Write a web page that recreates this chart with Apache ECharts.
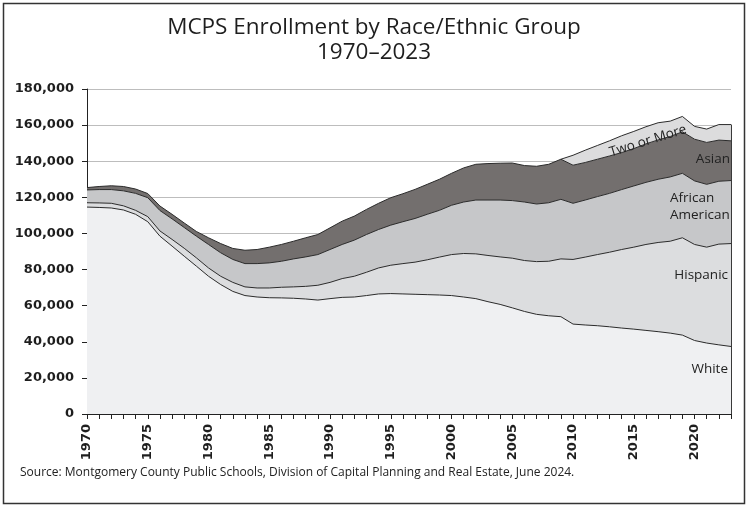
<!DOCTYPE html>
<html>
<head>
<meta charset="utf-8">
<title>MCPS Enrollment by Race/Ethnic Group</title>
<script src="https://cdn.jsdelivr.net/npm/echarts/dist/echarts.min.js"></script>
<style>
    html, body { margin: 0; padding: 0; background: #fff; }
    #chart_main { width: 748px; height: 506px; }
</style>
</head>
<body>
<div id="chart_main"></div>
<script>
var years = ['1970','1971','1972','1973','1974','1975','1976','1977','1978','1979',
    '1980','1981','1982','1983','1984','1985','1986','1987','1988','1989',
    '1990','1991','1992','1993','1994','1995','1996','1997','1998','1999',
    '2000','2001','2002','2003','2004','2005','2006','2007','2008','2009',
    '2010','2011','2012','2013','2014','2015','2016','2017','2018','2019',
    '2020','2021','2022','2023'];

var white = [114600,114400,114100,113000,110600,106500,98500,93000,87400,81900,
    76300,71700,67900,65600,64800,64400,64300,64100,63700,63100,
    63900,64600,64800,65600,66500,66700,66500,66300,66100,65900,
    65600,64800,63900,62200,60700,58800,56800,55200,54400,53900,
    49800,49300,48900,48300,47600,47000,46300,45600,44800,43700,
    40700,39300,38300,37400];

var hispanic = [2400,2500,2600,2300,2200,2800,2900,3700,4400,4600,
    4600,4600,5000,4800,5000,5400,5900,6300,7000,8200,
    9000,10400,11500,12900,14400,15700,16800,17800,19300,21000,
    22700,24100,24800,25600,26300,27500,28200,29200,30200,32000,
    35800,37600,39400,41300,43500,45400,47600,49400,50900,53900,
    53200,53100,55800,57000];

var africanAmerican = [7100,7400,7600,8300,9400,10500,11300,11400,11500,12000,
    13000,13000,12700,12900,13500,13900,14400,15500,16300,17000,
    18200,18900,20000,20900,21300,22200,23200,24200,25200,25900,
    27300,28500,29800,30700,31500,31900,32400,31900,32400,33000,
    31100,31600,32100,32600,33200,33900,34400,35000,35600,35700,
    35200,34800,34800,34900];

var asian = [1300,1700,2100,2400,2400,2300,2500,2500,2500,2600,
    3700,5100,6100,7400,7800,8700,9300,9800,10600,11100,
    12000,12900,13300,13900,14500,15200,15500,16100,16600,17200,
    17700,18900,19800,20200,20400,20800,20200,20900,21300,22200,
    21100,20800,20700,20700,20500,20700,21300,21800,22400,23000,
    23100,23200,22800,22000];

// not reported before 2009
var twoOrMore = [null,null,null,null,null,null,null,null,null,null,
    null,null,null,null,null,null,null,null,null,null,
    null,null,null,null,null,null,null,null,null,null,
    null,null,null,null,null,null,null,null,null,0,
    5500,6800,7600,8400,9300,9500,9500,9500,8500,8500,
    7100,7400,8600,9000];

var yTicks = [0, 20000, 40000, 60000, 80000, 100000, 120000, 140000, 160000, 180000];

$chartTitle = 'MCPS Enrollment by Race/Ethnic Group\n1970\u20132023';
$source = 'Source: Montgomery County Public Schools, Division of Capital Planning and Real Estate, June 2024.';

initChart();

function areaSeries(name, data, color) {
    return {
        name: name,
        type: 'line',
        stack: 'total',
        data: data,
        symbol: 'none',
        smooth: false,
        lineStyle: { color: '#2b2b2b', width: 1 },
        areaStyle: { color: color, opacity: 1 },
        emphasis: { disabled: true }
    };
}

function label(text, x, y, align, rot) {
    return {
        type: 'text', x: x, y: y, rotation: rot || 0, z: 100,
        style: {
            text: text,
            font: '13.5px "Open Sans"',
            lineHeight: 17,
            fill: '#222',
            align: align,
            verticalAlign: 'middle'
        }
    };
}

function initChart() {
    var myChart = echarts.init(document.getElementById('chart_main'));
    var last = years.length - 1;
    var lastTotal = white[last] + hispanic[last] + africanAmerican[last] + asian[last] + twoOrMore[last];

    var top = areaSeries('Two or More', twoOrMore, '#dcdcdd');
    top.markLine = {
        silent: true,
        symbol: 'none',
        label: { show: false },
        lineStyle: { color: '#3a3a3a', width: 1, type: 'solid' },
        data: [[{ coord: [years[last], 0] }, { coord: [years[last], lastTotal] }]]
    };

    option = {
        animation: false,
        backgroundColor: '#fff',
        title: {
            text: $chartTitle,
            left: 'center',
            top: 10,
            textStyle: {
                fontFamily: 'Open Sans',
                fontWeight: 'normal',
                fontSize: 22.5,
                lineHeight: 25,
                color: '#1e1e1e'
            }
        },
        grid: { left: 87, right: 17, top: 89, bottom: 92 },
        xAxis: {
            type: 'category',
            boundaryGap: false,
            data: years,
            axisLine: { lineStyle: { color: '#222', width: 1 } },
            axisTick: { interval: 0, length: 5, lineStyle: { color: '#222' } },
            axisLabel: {
                interval: 4,
                rotate: 90,
                margin: 10,
                fontFamily: 'DejaVu Sans',
                fontWeight: 'bold',
                fontSize: 13,
                color: '#1e1e1e'
            },
            splitLine: { show: false }
        },
        yAxis: {
            type: 'value',
            min: yTicks[0],
            max: yTicks[yTicks.length - 1],
            interval: 20000,
            axisLine: { show: true, lineStyle: { color: '#222', width: 1 } },
            axisTick: { show: true, length: 5, lineStyle: { color: '#222' } },
            axisLabel: {
                margin: 13,
                fontFamily: 'DejaVu Sans',
                fontWeight: 'bold',
                fontSize: 13,
                color: '#1e1e1e',
                formatter: function (v) { return v.toLocaleString('en-US'); }
            },
            splitLine: { lineStyle: { color: '#bdbdbd', width: 1 } }
        },
        series: [
            areaSeries('White', white, '#eff0f2'),
            areaSeries('Hispanic', hispanic, '#dcdddf'),
            areaSeries('African American', africanAmerican, '#c6c7c9'),
            areaSeries('Asian', asian, '#736f6e'),
            top
        ],
        graphic: [
            {
                type: 'rect', z: 100,
                shape: { x: 3.5, y: 3.5, width: 741, height: 500 },
                style: { fill: 'none', stroke: '#333', lineWidth: 1.5 },
                silent: true
            },
            {
                type: 'text', x: 20, y: 473, z: 100,
                style: { text: $source, font: '12px "Open Sans"', fill: '#222', verticalAlign: 'middle' }
            },
            label('Two or More', 648, 141, 'center', 0.30),
            label('Asian', 730, 159, 'right'),
            label('African\nAmerican', 670, 207, 'left'),
            label('Hispanic', 728, 275, 'right'),
            label('White', 728, 369, 'right')
        ]
    };

    myChart.setOption(option);
}
</script>
</body>
</html>
